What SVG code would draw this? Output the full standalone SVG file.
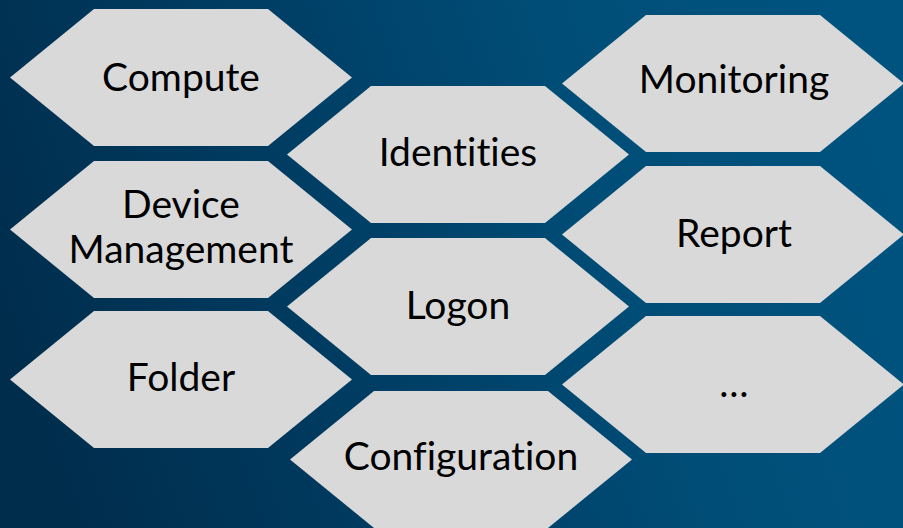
<svg xmlns="http://www.w3.org/2000/svg" xmlns:xlink="http://www.w3.org/1999/xlink" width="903" height="528" viewBox="0 0 903 528">
<defs>
<linearGradient id="bg" x1="0" y1="0.6" x2="1" y2="0.4">
<stop offset="0" stop-color="#002d4c"/>
<stop offset="0.35" stop-color="#003c62"/>
<stop offset="0.7" stop-color="#004e78"/>
<stop offset="1" stop-color="#00537f"/>
</linearGradient>
<polygon id="hex" points="0,68.5 84,0 258,0 342,68.5 258,137 84,137"/>
</defs>
<style>
.hex{fill:#d9d9d9;}
.lbl{font-family:"Lato","Open Sans","Liberation Sans",sans-serif;font-size:39px;fill:#000;text-anchor:middle;font-variant-ligatures:none;font-feature-settings:"liga" 0;}
</style>
<rect x="0" y="0" width="903" height="528" fill="url(#bg)"/>
<g id="node-compute"><use href="#hex" class="hex" x="10" y="9"/><text class="lbl" x="181" y="91">Compute</text></g>
<g id="node-device-management"><use href="#hex" class="hex" x="10" y="161"/><text class="lbl" x="181" y="218">Device</text><text class="lbl" x="181" y="263">Management</text></g>
<g id="node-folder"><use href="#hex" class="hex" x="10" y="311"/><text class="lbl" x="181" y="391">Folder</text></g>
<g id="node-identities"><use href="#hex" class="hex" x="287" y="86"/><text class="lbl" x="458" y="166">Identities</text></g>
<g id="node-logon"><use href="#hex" class="hex" x="287" y="238"/><text class="lbl" x="458" y="319">Logon</text></g>
<g id="node-configuration"><use href="#hex" class="hex" x="290" y="391"/><text class="lbl" x="461" y="470">Configuration</text></g>
<g id="node-monitoring"><use href="#hex" class="hex" x="562" y="15"/><text class="lbl" x="734" y="93">Monitoring</text></g>
<g id="node-report"><use href="#hex" class="hex" x="562" y="166"/><text class="lbl" x="734" y="247">Report</text></g>
<g id="node-more"><use href="#hex" class="hex" x="562" y="316"/><text class="lbl" x="734" y="397">…</text></g>
</svg>
